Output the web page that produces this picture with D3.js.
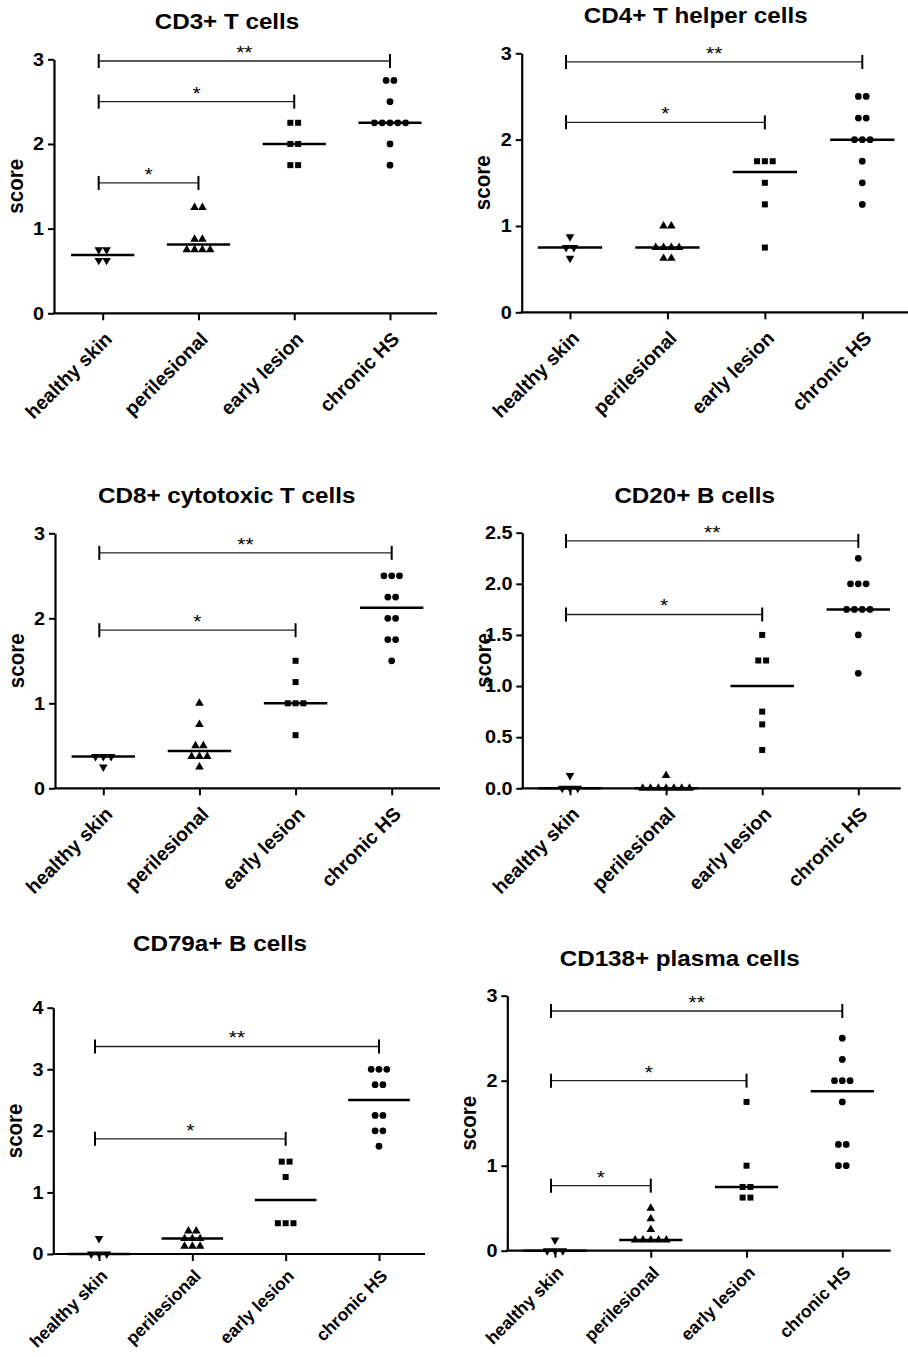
<!DOCTYPE html>
<html>
<head>
<meta charset="utf-8">
<script src="https://cdn.jsdelivr.net/npm/d3@7"></script>
<style>
  html, body { margin: 0; padding: 0; background: #fff; }
  svg { display: block; }
  text { font-family: "Liberation Sans", Arial, sans-serif; fill: #000; }
</style>
</head>
<body>
<script>
// Group names along each x axis
const categories = ["healthy skin", "perilesional", "early lesion", "chronic HS"];

// Panel titles and y-axis extents
const titles = ["CD3+ T cells", "CD4+ T helper cells", "CD8+ cytotoxic T cells",
                "CD20+ B cells", "CD79a+ B cells", "CD138+ plasma cells"];
const yMaxes = [3, 3, 3, 2.5, 4, 3];
const yTicksInt3 = [0, 1, 2, 3];
const yTicksCd20 = [0, 0.5, 1.0, 1.5, 2.0, 2.5];
const yTicksInt4 = [0, 1, 2, 3, 4];

// Individual scores per group (healthy, perilesional, early lesion, chronic HS)
const cd3Scores = [
  [0.75, 0.75, 0.625, 0.625],
  [1.25, 1.25, 0.875, 0.875, 0.75, 0.75, 0.75, 0.75],
  [2.25, 2.25, 2.0, 2.0, 1.75, 1.75],
  [2.75, 2.75, 2.5, 2.25, 2.25, 2.25, 2.25, 2.25, 2.0, 1.75]
];
const cd4Scores = [
  [0.875, 0.75, 0.75, 0.625],
  [1.0, 1.0, 0.75, 0.75, 0.75, 0.75, 0.625, 0.625],
  [1.75, 1.75, 1.75, 1.5, 1.25, 0.75],
  [2.5, 2.5, 2.25, 2.25, 2.0, 2.0, 2.0, 1.75, 1.5, 1.25]
];
const cd8Scores = [
  [0.375, 0.375, 0.375, 0.25],
  [1.0, 0.75, 0.5, 0.5, 0.375, 0.375, 0.375, 0.25],
  [1.5, 1.25, 1.0, 1.0, 1.0, 0.625],
  [2.5, 2.5, 2.5, 2.25, 2.25, 2.0, 2.0, 1.75, 1.75, 1.5]
];
const cd20Scores = [
  [0.125, 0, 0, 0],
  [0.125, 0, 0, 0, 0, 0, 0, 0],
  [1.5, 1.25, 1.25, 0.75, 0.625, 0.375],
  [2.25, 2.0, 2.0, 2.0, 1.75, 1.75, 1.75, 1.75, 1.5, 1.125]
];
const cd79aScores = [
  [0.25, 0, 0, 0],
  [0.375, 0.375, 0.25, 0.25, 0.25, 0.125, 0.125, 0.125],
  [1.5, 1.5, 1.25, 0.5, 0.5, 0.5],
  [3.0, 3.0, 3.0, 2.75, 2.75, 2.25, 2.25, 2.0, 2.0, 1.75]
];
const cd138Scores = [
  [0.125, 0, 0, 0],
  [0.5, 0.375, 0.25, 0.125, 0.125, 0.125, 0.125, 0.125],
  [1.75, 1.0, 0.75, 0.75, 0.625, 0.625],
  [2.5, 2.25, 2.0, 2.0, 2.0, 1.75, 1.25, 1.25, 1.0, 1.0]
];

// Significance brackets: [from group, to group, height in score units, label]
const cd3Brackets = [[0, 3, 2.98, "**"], [0, 2, 2.5, "*"], [0, 1, 1.54, "*"]];
const cd4Brackets = [[0, 3, 2.9, "**"], [0, 2, 2.2, "*"]];
const cd8Brackets = [[0, 3, 2.77, "**"], [0, 2, 1.86, "*"]];
const cd20Brackets = [[0, 3, 2.42, "**"], [0, 2, 1.7, "*"]];
const cd79aBrackets = [[0, 3, 3.37, "**"], [0, 2, 1.87, "*"]];
const cd138Brackets = [[0, 3, 2.82, "**"], [0, 2, 2.0, "*"], [0, 1, 0.765, "*"]];

const scoreSets = [cd3Scores, cd4Scores, cd8Scores, cd20Scores, cd79aScores, cd138Scores];
const bracketSets = [cd3Brackets, cd4Brackets, cd8Brackets, cd20Brackets, cd79aBrackets, cd138Brackets];
const tickSets = [yTicksInt3, yTicksInt3, yTicksInt3, yTicksCd20, yTicksInt4, yTicksInt3];
const tickFormats = [d3.format("d"), d3.format("d"), d3.format("d"), d3.format(".1f"), d3.format("d"), d3.format("d")];

// Page placement of each panel: y axis x, x-axis end, plot top/bottom, first/last group,
// title anchor, size and offset of the slanted group names
const layout = [
  { ax: 54,    axEnd: 437,   top: 59.3,   bottom: 313.3,  g0: 102.7, g3: 390,   tx: 227,   ty: 29.3,  cs: 19.5, cdx: 10, cdy: 27 },
  { ax: 521.7, axEnd: 910,   top: 53.3,   bottom: 312.3,  g0: 570,   g3: 862.3, tx: 695.7, ty: 22.7,  cs: 19.5, cdx: 10, cdy: 27 },
  { ax: 55,    axEnd: 440,   top: 533.3,  bottom: 788.3,  g0: 103.3, g3: 391.7, tx: 226.7, ty: 502.7, cs: 19.5, cdx: 10, cdy: 27 },
  { ax: 522.3, axEnd: 900.7, top: 532.7,  bottom: 788.3,  g0: 570,   g3: 858.3, tx: 694.7, ty: 502.7, cs: 19.5, cdx: 10, cdy: 27 },
  { ax: 53.3,  axEnd: 425,   top: 1007.7, bottom: 1254,   g0: 99,    g3: 379,   tx: 220,   ty: 951,   cs: 17.5, cdx: 9,  cdy: 23 },
  { ax: 507.3, axEnd: 890.7, top: 995.7,  bottom: 1250.7, g0: 555,   g3: 842.3, tx: 679.7, ty: 965.7, cs: 17.5, cdx: 9,  cdy: 23 }
];

const STRETCH = 1.1;      // horizontal type is set slightly wide
const DOT_GAP = 7.8;      // horizontal spacing between tied scores

const symbolFor = [
  d3.symbol().type(d3.symbolTriangle).size(32),   // healthy skin (pointing down)
  d3.symbol().type(d3.symbolTriangle).size(32),   // perilesional
  d3.symbol().type(d3.symbolSquare).size(36),     // early lesion
  d3.symbol().type(d3.symbolCircle).size(36)      // chronic HS
];

const svg = d3.select("body").append("svg")
  .attr("width", 908).attr("height", 1357);

layout.forEach((L, p) => {
  const g = svg.append("g");
  const y = d3.scaleLinear().domain([0, yMaxes[p]]).range([L.bottom, L.top]);
  const x = d3.scalePoint().domain(categories).range([L.g0, L.g3]);
  const step = x.step();

  // Title
  g.append("text")
    .attr("transform", `translate(${L.tx},${L.ty}) scale(${STRETCH},1)`)
    .attr("text-anchor", "middle")
    .style("font-size", "22px").style("font-weight", "bold")
    .text(titles[p]);

  // Y axis
  const yAxis = g.append("g")
    .attr("transform", `translate(${L.ax},0)`)
    .call(d3.axisLeft(y).tickValues(tickSets[p]).tickFormat(tickFormats[p])
      .tickSize(6).tickSizeOuter(0).tickPadding(3));
  yAxis.attr("font-family", null).attr("font-size", null);
  yAxis.select(".domain").attr("stroke", "#000").attr("stroke-width", 2.2);
  yAxis.selectAll(".tick line").attr("stroke", "#000").attr("stroke-width", 2);
  yAxis.selectAll(".tick text")
    .attr("transform", `scale(${STRETCH},1)`)
    .style("font-size", "18px").style("font-weight", "bold")
    .attr("fill", "#000");

  // Y axis title
  g.append("text")
    .attr("transform", `translate(${L.ax - 31.5},${(L.top + L.bottom) / 2}) scale(${STRETCH},1) rotate(-90)`)
    .attr("text-anchor", "middle")
    .style("font-size", "20.5px").style("font-weight", "bold")
    .text("score");

  // X axis with slanted group names
  const xAxis = g.append("g")
    .attr("transform", `translate(0,${L.bottom})`)
    .call(d3.axisBottom(x).tickSize(7).tickSizeOuter(0));
  xAxis.select(".domain").remove();
  xAxis.attr("font-family", null).attr("font-size", null);
  xAxis.selectAll(".tick line").attr("stroke", "#000").attr("stroke-width", 2);
  xAxis.selectAll(".tick text")
    .attr("x", null).attr("y", null).attr("dy", null)
    .attr("text-anchor", "end")
    .attr("transform", `translate(${L.cdx},${L.cdy}) rotate(-45)`)
    .style("font-size", `${L.cs}px`).style("font-weight", "bold")
    .attr("fill", "#000");
  g.append("line")
    .attr("x1", L.ax - 1).attr("x2", L.axEnd)
    .attr("y1", L.bottom).attr("y2", L.bottom)
    .attr("stroke", "#000").attr("stroke-width", 2.2);

  // Scatter of individual scores; tied scores are spread side by side
  scoreSets[p].forEach((vals, ci) => {
    const counts = d3.rollup(vals, v => v.length, d => d);
    const pts = [];
    counts.forEach((n, v) => {
      for (let i = 0; i < n; i++) pts.push({ v, off: (i - (n - 1) / 2) * DOT_GAP });
    });
    const cx = x(categories[ci]);
    g.append("g").selectAll("path").data(pts).join("path")
      .attr("d", symbolFor[ci]())
      .attr("transform", d => `translate(${cx + d.off},${y(d.v)})` + (ci === 0 ? " rotate(180)" : ""))
      .attr("fill", "#000");

    // Median line
    const med = d3.median(vals);
    g.append("line")
      .attr("x1", cx - step * 0.33).attr("x2", cx + step * 0.33)
      .attr("y1", y(med)).attr("y2", y(med))
      .attr("stroke", "#000").attr("stroke-width", 2.5);
  });

  // Significance brackets
  bracketSets[p].forEach(([a, b, h, label]) => {
    const x1 = x(categories[a]) - 4;
    const x2 = x(categories[b]);
    const yy = y(h);
    const bg = g.append("g");
    bg.append("line").attr("x1", x1).attr("x2", x2).attr("y1", yy).attr("y2", yy)
      .attr("stroke", "#222").attr("stroke-width", 1.3);
    [x1, x2].forEach(xx => bg.append("line")
      .attr("x1", xx).attr("x2", xx).attr("y1", yy - 7).attr("y2", yy + 7)
      .attr("stroke", "#000").attr("stroke-width", 2));
    bg.append("text")
      .attr("transform", `translate(${(x1 + x2) / 2},${yy - 2}) scale(${STRETCH},1)`)
      .attr("text-anchor", "middle")
      .style("font-size", "19px")
      .text(label);
  });
});
</script>
</body>
</html>
